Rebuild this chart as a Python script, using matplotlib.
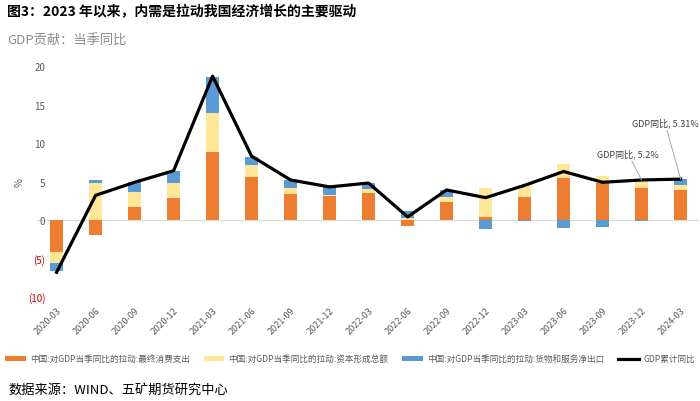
import matplotlib
matplotlib.use("Agg")
import matplotlib.pyplot as plt
import numpy as np

plt.rcParams['font.family'] = ['Noto Sans CJK SC', 'DejaVu Sans']

# 数据
quarters = ["2020-03", "2020-06", "2020-09", "2020-12", "2021-03", "2021-06",
            "2021-09", "2021-12", "2022-03", "2022-06", "2022-09", "2022-12",
            "2023-03", "2023-06", "2023-09", "2023-12", "2024-03"]
consumption = [-4.1, -2.0, 1.7, 2.9, 8.8, 5.6, 3.4, 3.1, 3.5, -0.8, 2.4, 0.4,
               3.0, 5.4, 4.75, 4.15, 3.9]
capital = [-1.5, 4.8, 2.0, 1.95, 5.1, 1.6, 0.8, 0.1, 0.5, 0.2, 0.65, 3.7,
           1.6, 1.9, 1.0, 1.15, 0.65]
net_export = [-1.1, 0.4, 1.2, 1.5, 4.7, 1.0, 0.95, 1.1, 0.8, 1.0, 0.85, -1.2,
              -0.1, -1.0, -0.85, -0.1, 0.75]
gdp = [-6.8, 3.2, 4.9, 6.4, 18.7, 8.3, 5.2, 4.3, 4.8, 0.4, 3.9, 2.9,
       4.5, 6.3, 4.9, 5.2, 5.31]

labels = ["中国:对GDP当季同比的拉动:最终消费支出",
          "中国:对GDP当季同比的拉动:资本形成总额",
          "中国:对GDP当季同比的拉动:货物和服务净出口",
          "GDP累计同比"]
colors = ["#ED7D31", "#FFE699", "#5B9BD5"]


def stack_bars(ax, x, series, width):
    """正负分开堆叠"""
    pos_base = np.zeros(len(x))
    neg_base = np.zeros(len(x))
    handles = []
    for vals, c, lab in zip(series, colors, labels):
        vals = np.array(vals)
        bottoms = np.where(vals >= 0, pos_base, neg_base)
        h = ax.bar(x, vals, width, bottom=bottoms, color=c, label=lab, zorder=2)
        handles.append(h)
        pos_base = pos_base + np.where(vals >= 0, vals, 0)
        neg_base = neg_base + np.where(vals < 0, vals, 0)
    return handles


fig = plt.figure(figsize=(7, 4.02), dpi=100)
ax = fig.add_axes([0.053, 0.259, 0.946, 0.574])

x = np.arange(len(quarters))
handles = stack_bars(ax, x, [consumption, capital, net_export], 0.33)
line, = ax.plot(x, gdp, color="black", lw=2.3, label=labels[3], zorder=3)

ax.set_xlim(-0.5, 16.48)
ax.set_ylim(-10, 20)
ax.axhline(0, color="#D9D9D9", lw=0.8, zorder=1)
for s in ax.spines.values():
    s.set_visible(False)

yt = [-10, -5, 0, 5, 10, 15, 20]
ax.set_yticks(yt)
ax.set_yticklabels(["(10)", "(5)", "0", "5", "10", "15", "20"], fontsize=7)
for t, v in zip(ax.get_yticklabels(), yt):
    t.set_color("#C00000" if v < 0 else "#595959")
ax.tick_params(axis="y", length=0, pad=-6)
ax.tick_params(axis="x", length=0, pad=6)

ax.set_xticks(x)
ax.set_xticklabels(quarters, rotation=45, ha="right", rotation_mode="anchor",
                   fontsize=6.5, color="#595959")

# 标注
ax.annotate("GDP同比, 5.2%", xy=(15, 5.2), xytext=(14.65, 8.0),
            fontsize=6.5, color="#404040", ha="center", va="bottom",
            arrowprops=dict(arrowstyle="-", color="#A6A6A6", lw=0.7,
                            shrinkA=0, shrinkB=0))
ax.annotate("GDP同比, 5.31%", xy=(16, 5.31), xytext=(15.6, 12.0),
            fontsize=6.5, color="#404040", ha="center", va="bottom",
            arrowprops=dict(arrowstyle="-", color="#A6A6A6", lw=0.7,
                            shrinkA=0, shrinkB=0))

fig.text(20 / 700, 1 - 183 / 402, "%", fontsize=7, color="#595959",
         rotation=90, va="center", ha="center")
fig.text(0.01, 0.97, "图3：2023 年以来，内需是拉动我国经济增长的主要驱动",
         fontsize=10, fontweight="bold", va="center", ha="left")
fig.text(0.01, 0.898, "GDP贡献：当季同比", fontsize=9.5, color="#8C8C8C",
         va="center", ha="left")

fig.legend(handles + [line], labels, loc="center", bbox_to_anchor=(0.5, 0.105),
           ncol=4, frameon=False, fontsize=6.2, handlelength=2.4,
           handleheight=0.5, columnspacing=1.6, handletextpad=0.5,
           labelcolor="#595959")

fig.text(0.012, 0.027, "数据来源：WIND、五矿期货研究中心", fontsize=9.5,
         va="center", ha="left")

fig.savefig("out.png", dpi=100)
